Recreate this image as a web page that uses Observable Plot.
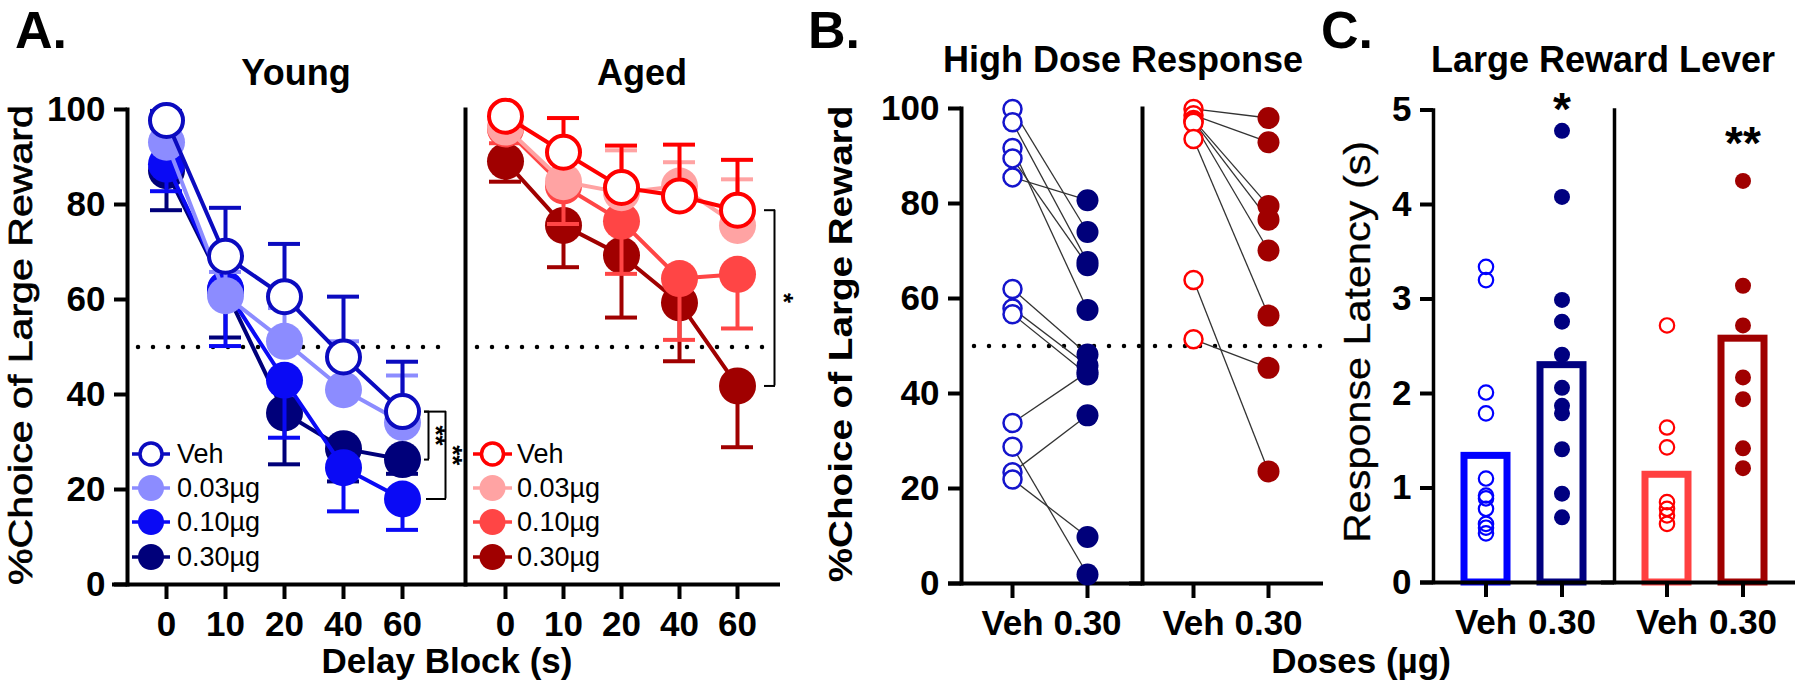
<!DOCTYPE html>
<html><head><meta charset="utf-8">
<script src="https://cdn.jsdelivr.net/npm/d3@7"></script>
<script src="https://cdn.jsdelivr.net/npm/@observablehq/plot@0.6"></script>
<style>
html,body{margin:0;padding:0;background:#fff;}
#root{position:relative;width:1800px;height:686px;overflow:hidden;font-family:'Liberation Sans',Arial,Helvetica,sans-serif;color:#000;background:#fff;}
#root > svg{position:absolute;left:0;top:0;}
.t{position:absolute;white-space:nowrap;line-height:1;}
.lg{position:absolute;height:34px;display:flex;align-items:center;font-size:27px;white-space:nowrap;}
#root .lg svg{position:static;display:block;}
</style></head><body><div id="root"></div>
<script>
// ---------- DATA ----------
const delays = ["0", "10", "20", "40", "60"];
const doseNamesA = ["Veh", "0.03µg", "0.10µg", "0.30µg"];
const yTicksPct = [0, 20, 40, 60, 80, 100];
const yTicksLat = [0, 1, 2, 3, 4, 5];
const groups = ["Young", "Aged"];
const dosesBC = ["Veh", "0.30"];

// Panel A – Young means and SEM (Veh/0.03 bars drawn upward, 0.10/0.30 downward)
const youngVeh = [97.7, 69.1, 60.6, 47.9, 36.4];
const young003 = [93.1, 60.8, 51.2, 41.0, 34.1];
const young010 = [88.5, 62.2, 43.0, 24.6, 18.0];
const young030 = [87.1, 62.0, 36.1, 28.6, 26.3];
const youngVehErr = [2.0, 10.2, 11.1, 12.7, 10.5];
const young003Err = [3.0, 5.0, 7.0, 10.2, 9.9];
const young010Err = [5.7, 12.0, 12.1, 9.2, 6.5];
const young030Err = [8.3, 10.0, 10.8, 6.9, 3.0];

// Panel A – Aged
const agedVeh = [98.6, 91.0, 83.6, 81.8, 78.8];
const aged003 = [96.3, 84.8, 82.5, 83.9, 75.6];
const aged010 = [95.9, 83.9, 76.5, 64.4, 65.3];
const aged030 = [89.1, 75.6, 69.3, 59.3, 41.8];
const agedVehErr = [1.5, 7.2, 8.8, 10.8, 10.6];
const aged003Err = [2.0, 5.0, 8.9, 5.0, 9.7];
const aged010Err = [3.0, 8.0, 11.1, 12.9, 11.4];
const aged030Err = [4.3, 8.8, 13.1, 12.3, 12.9];

// Significance brackets at 60 s
const sigYoungLabels = ["**", "**"];
const sigAgedLabels = ["*"];

// Panel B – individual animals, Veh vs 0.30 µg (paired)
const youngBVeh = [99.9, 97.1, 91.7, 89.5, 85.5, 62.0, 57.9, 56.7, 33.8, 28.8, 23.4, 21.9];
const youngBHigh = [74.0, 67.7, 57.6, 67.0, 80.7, 48.2, 45.9, 44.0, 44.5, 1.9, 35.4, 9.8];
const agedBVeh = [99.9, 98.6, 97.6, 97.3, 97.0, 93.6, 63.9, 51.4];
const agedBHigh = [98.0, 92.9, 79.5, 76.6, 70.1, 56.4, 23.6, 45.4];

// Panel C – response latency (s)
const youngCVeh = [3.34, 3.20, 2.01, 1.79, 1.10, 0.92, 0.89, 0.78, 0.62, 0.58, 0.52];
const youngCHigh = [4.78, 4.08, 2.99, 2.76, 2.41, 2.06, 1.87, 1.79, 1.41, 0.94, 0.69];
const agedCVeh = [2.72, 1.64, 1.43, 0.85, 0.78, 0.71, 0.62];
const agedCHigh = [4.25, 3.14, 2.72, 2.17, 1.94, 1.42, 1.21];
const barsCValues = [1.34, 2.30, 1.14, 2.58]; // Young Veh, Young 0.30, Aged Veh, Aged 0.30
const sigCLabels = ["*", "**"];
const sigCHeights = [5.0, 4.64];

// ---------- STYLE ----------
const FONT = "'Liberation Sans', Arial, Helvetica, sans-serif";
const colYoung = ["#0b0bbf", "#8c8cff", "#0a0af5", "#00007a"];
const colAged = ["#ff0000", "#ffa3a3", "#ff4545", "#a00000"];
const W = 1800, H = 686;
const root = document.getElementById("root");
const svgStyle = {background: "transparent", overflow: "visible", fontFamily: FONT};
const axisFont = {fontSize: 35, fontWeight: "bold"};
const dotted = {strokeDasharray: "0,15", strokeLinecap: "round", strokeWidth: 4.5};

function rowsOf(values, errs, dir) {
  return delays.map((d, i) => ({delay: d, value: values[i], cap: values[i] + dir * errs[i]}));
}

function panelA(cfg) {
  const marks = [
    Plot.ruleY([50], {...dotted, insetLeft: cfg.dotL, insetRight: cfg.dotR}),
    Plot.ruleY([0], {strokeWidth: 4, insetLeft: cfg.axisExt}),
    Plot.frame({anchor: "left", strokeWidth: 4}),
    Plot.axisX({tickSize: 15, tickPadding: 12, strokeWidth: 4, ...axisFont, label: null})
  ];
  if (cfg.yAxis) marks.push(Plot.axisY({ticks: yTicksPct, tickSize: 13, tickPadding: 9, strokeWidth: 4, ...axisFont, label: null}));
  const ser = cfg.series;
  for (let k = ser.length - 1; k >= 0; k--) {
    const s = ser[k];
    const rows = rowsOf(s.values, s.err, s.dir);
    marks.push(Plot.ruleX(rows, {x: "delay", y1: "value", y2: "cap", stroke: s.color, strokeWidth: 4}));
    marks.push(Plot.ruleY(rows, {x1: "delay", x2: "delay", y: "cap", stroke: s.color, strokeWidth: 4, insetLeft: -16, insetRight: -16}));
    marks.push(Plot.line(rows, {x: "delay", y: "value", stroke: s.color, strokeWidth: 4}));
    if (s.open) marks.push(Plot.dot(rows, {x: "delay", y: "value", r: 16.5, fill: "white", stroke: s.color, strokeWidth: 4}));
    else marks.push(Plot.dot(rows, {x: "delay", y: "value", r: 18.5, fill: s.color}));
  }
  for (const b of cfg.brackets) {
    const d = [{delay: delays[4], top: b.top, bottom: b.bottom, mid: (b.top + b.bottom) / 2, label: b.label}];
    marks.push(Plot.ruleX(d, {x: "delay", y1: "top", y2: "bottom", dx: b.vx, strokeWidth: 2}));
    marks.push(Plot.ruleY(d, {x1: "delay", x2: "delay", y: "top", strokeWidth: 2, insetLeft: b.topFrom, insetRight: -b.vx - 1}));
    marks.push(Plot.ruleY(d, {x1: "delay", x2: "delay", y: "bottom", strokeWidth: 2, insetLeft: b.botFrom, insetRight: -b.vx - 1}));
    marks.push(Plot.text(d, {x: "delay", y: "mid", text: "label", rotate: 90, dx: b.tx, fontSize: 26, fontWeight: "bold"}));
  }
  return Plot.plot({
    width: W, height: H,
    marginLeft: cfg.left, marginRight: W - cfg.right, marginTop: 109, marginBottom: 102,
    x: {type: "point", domain: delays, padding: 0, insetLeft: cfg.inL, insetRight: cfg.inR},
    y: {domain: [0, 100], axis: cfg.yAxis ? undefined : null},
    style: svgStyle,
    marks
  });
}

const youngSeries = [
  {values: youngVeh, err: youngVehErr, dir: 1, color: colYoung[0], open: true},
  {values: young003, err: young003Err, dir: 1, color: colYoung[1]},
  {values: young010, err: young010Err, dir: -1, color: colYoung[2]},
  {values: young030, err: young030Err, dir: -1, color: colYoung[3]}
];
const agedSeries = [
  {values: agedVeh, err: agedVehErr, dir: 1, color: colAged[0], open: true},
  {values: aged003, err: aged003Err, dir: 1, color: colAged[1]},
  {values: aged010, err: aged010Err, dir: -1, color: colAged[2]},
  {values: aged030, err: aged030Err, dir: -1, color: colAged[3]}
];

root.appendChild(panelA({
  left: 127, right: 465, inL: 37, inR: 62, dotL: 11, dotR: 25, axisExt: -15, yAxis: true,
  series: youngSeries,
  brackets: [
    {top: youngVeh[4], bottom: young030[4], label: sigYoungLabels[0], vx: 26, topFrom: 22, botFrom: 22, tx: 33},
    {top: youngVeh[4], bottom: young010[4], label: sigYoungLabels[1], vx: 43, topFrom: 22, botFrom: 24, tx: 50}
  ]
}));
root.appendChild(panelA({
  left: 465, right: 780, inL: 38, inR: 42, dotL: 12, dotR: 7, axisExt: 0, yAxis: false,
  series: agedSeries,
  brackets: [
    {top: agedVeh[4], bottom: aged030[4], label: sigAgedLabels[0], vx: 37, topFrom: 27, botFrom: 27, tx: 46}
  ]
}));

// ---------- PANEL B ----------
const pairsB = [];
youngBVeh.forEach((v, i) => pairsB.push({group: groups[0], veh: v, high: youngBHigh[i], ch: colYoung[3]}));
agedBVeh.forEach((v, i) => pairsB.push({group: groups[1], veh: v, high: agedBHigh[i], ch: colAged[3]}));
const colBVeh = ["#1414cc", "#ff0000"];
root.appendChild(Plot.plot({
  width: W, height: H,
  marginLeft: 960, marginRight: W - 1323, marginTop: 108, marginBottom: 103,
  fx: {domain: groups, axis: null, padding: 0},
  x: {type: "point", domain: dosesBC, padding: 0, insetLeft: 51, insetRight: 55},
  y: {domain: [0, 100]},
  style: svgStyle,
  marks: [
    Plot.ruleY([50], {...dotted, insetLeft: 13}),
    Plot.ruleY([0], {strokeWidth: 4, insetLeft: -13}),
    Plot.frame({anchor: "left", strokeWidth: 4}),
    Plot.axisY({ticks: yTicksPct, tickSize: 13, tickPadding: 9, strokeWidth: 4, ...axisFont, label: null}),
    Plot.axisX({tickSize: 15, tickPadding: 12, strokeWidth: 4, ...axisFont, label: null}),
    Plot.link(pairsB, {fx: "group", x1: () => dosesBC[0], x2: () => dosesBC[1], y1: "veh", y2: "high", stroke: "#333", strokeWidth: 1.3}),
    Plot.dot(pairsB, {fx: "group", x: () => dosesBC[0], y: "veh", r: 9, fill: "white", stroke: d => d.group === groups[0] ? colBVeh[0] : colBVeh[1], strokeWidth: 2.5}),
    Plot.dot(pairsB, {fx: "group", x: () => dosesBC[1], y: "high", r: 11, fill: "ch"})
  ]
}));

// ---------- PANEL C ----------
const barsC = [
  {group: groups[0], dose: dosesBC[0], value: barsCValues[0], color: "#0000ff"},
  {group: groups[0], dose: dosesBC[1], value: barsCValues[1], color: "#000080"},
  {group: groups[1], dose: dosesBC[0], value: barsCValues[2], color: "#ff4040"},
  {group: groups[1], dose: dosesBC[1], value: barsCValues[3], color: "#a00000"}
];
const ptsC = [];
youngCVeh.forEach(v => ptsC.push({group: groups[0], dose: dosesBC[0], value: v, color: "#0000ff", open: true}));
youngCHigh.forEach(v => ptsC.push({group: groups[0], dose: dosesBC[1], value: v, color: "#000080", open: false}));
agedCVeh.forEach(v => ptsC.push({group: groups[1], dose: dosesBC[0], value: v, color: "#ff0000", open: true}));
agedCHigh.forEach(v => ptsC.push({group: groups[1], dose: dosesBC[1], value: v, color: "#a00000", open: false}));
const sigC = [
  {group: groups[0], dose: dosesBC[1], y: sigCHeights[0], label: sigCLabels[0]},
  {group: groups[1], dose: dosesBC[1], y: sigCHeights[1], label: sigCLabels[1]}
];
root.appendChild(Plot.plot({
  width: W, height: H,
  marginLeft: 1433, marginRight: 5, marginTop: 109.5, marginBottom: 104,
  fx: {domain: groups, axis: null, padding: 0},
  x: {type: "band", domain: dosesBC, paddingInner: 0.44, paddingOuter: 0.40},
  y: {domain: [0, 5]},
  style: svgStyle,
  marks: [
    Plot.barY(barsC, {fx: "group", x: "dose", y: "value", fill: "white", stroke: "color", strokeWidth: 7}),
    Plot.ruleY([0], {strokeWidth: 4, insetLeft: -13}),
    Plot.frame({anchor: "left", strokeWidth: 3.5}),
    Plot.axisY({ticks: yTicksLat, tickFormat: d => String(d), tickSize: 13, tickPadding: 9, strokeWidth: 4, ...axisFont, label: null}),
    Plot.axisX({tickSize: 15, tickPadding: 12, strokeWidth: 4, ...axisFont, label: null}),
    Plot.dot(ptsC.filter(d => d.open), {fx: "group", x: "dose", y: "value", r: 7.2, fill: "none", stroke: "color", strokeWidth: 2.2}),
    Plot.dot(ptsC.filter(d => !d.open), {fx: "group", x: "dose", y: "value", r: 8, fill: "color"}),
    Plot.text(sigC, {fx: "group", x: "dose", y: "y", text: "label", fontSize: 46, fontWeight: "bold"})
  ]
}));

// ---------- TEXT ----------
function txt(t, o) {
  const d = document.createElement("div");
  d.className = "t";
  d.textContent = t;
  d.style.fontSize = o.s + "px";
  d.style.fontWeight = o.w || "bold";
  d.style.top = (o.base - 0.8465 * o.s) + "px";
  if (o.cx !== undefined) { d.style.left = o.cx + "px"; d.style.transform = "translateX(-50%)"; }
  else d.style.left = o.x + "px";
  root.appendChild(d);
  return d;
}
function vtxt(t, o) {
  const d = document.createElement("div");
  d.className = "t";
  d.textContent = t;
  d.style.fontSize = o.s + "px";
  d.style.fontWeight = o.w || "bold";
  if (o.stroke) d.style.webkitTextStroke = o.stroke + "px #000";
  d.style.left = o.cx + "px";
  d.style.top = o.cy + "px";
  root.appendChild(d);
  const k = o.len / d.offsetWidth;
  d.style.transform = `translate(-50%,-50%) rotate(-90deg) scaleX(${k})`;
  return d;
}
txt("A.", {x: 15, base: 48, s: 52});
txt("B.", {x: 808, base: 48, s: 52});
txt("C.", {x: 1321, base: 48, s: 52});
txt("Young", {cx: 296, base: 85, s: 36});
txt("Aged", {cx: 642, base: 85, s: 36});
txt("High Dose Response", {cx: 1123, base: 72, s: 36});
txt("Large Reward Lever", {cx: 1603, base: 72, s: 36});
txt("Delay Block (s)", {cx: 447, base: 673, s: 35});
txt("Doses (µg)", {cx: 1361, base: 673, s: 35});
vtxt("%Choice of Large Reward", {cx: 20, cy: 345, s: 34, w: "normal", stroke: 0.7, len: 480});
vtxt("%Choice of Large Reward", {cx: 840, cy: 344, s: 34, w: "bold", len: 476});
vtxt("Response Latency (s)", {cx: 1358, cy: 342, s: 36, w: "normal", stroke: 0.3, len: 402});

// ---------- LEGENDS ----------
const legendRowsY = [454, 488, 522, 557];
function legend(x, w, gap, colors) {
  doseNamesA.forEach((name, i) => {
    const row = document.createElement("div");
    row.className = "lg";
    row.style.left = x + "px";
    row.style.top = (legendRowsY[i] - 17) + "px";
    const open = i === 0;
    const c = colors[i];
    row.innerHTML = `<svg width="${w}" height="34"><line x1="0" x2="${w}" y1="17" y2="17" stroke="${c}" stroke-width="3.5"/>` +
      (open ? `<circle cx="${w / 2}" cy="17" r="11" fill="white" stroke="${c}" stroke-width="3.5"/>`
            : `<circle cx="${w / 2}" cy="17" r="13" fill="${c}"/>`) +
      `</svg><span style="margin-left:${gap}px">${name}</span>`;
    root.appendChild(row);
  });
}
legend(132, 38, 7, colYoung);
legend(473, 39, 5, colAged);
</script></body></html>
